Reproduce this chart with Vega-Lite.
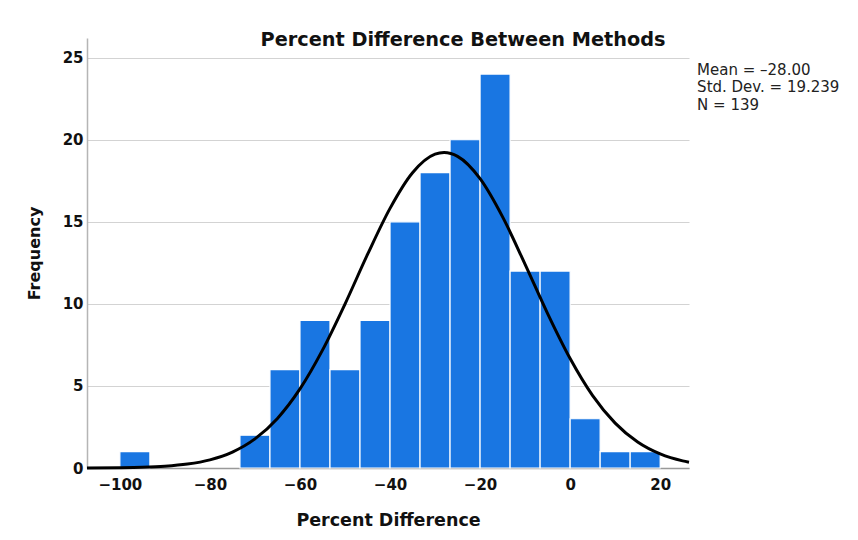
{
  "$schema": "https://vega.github.io/schema/vega-lite/v6.json",
  "width": 602,
  "height": 430,
  "autosize": "none",
  "padding": {"left": 87, "top": 38, "right": 169, "bottom": 72},
  "background": "white",
  "config": {
    "view": {"stroke": null},
    "font": "DejaVu Sans"
  },
  "title": {
    "text": "Percent Difference Between Methods",
    "font": "DejaVu Sans",
    "fontSize": 19.3,
    "fontWeight": "bold",
    "color": "#111111",
    "anchor": "middle",
    "dx": 75,
    "baseline": "alphabetic",
    "offset": -27
  },
  "datasets": {
    "bins": [
      {"start": -100, "end": -93.333, "count": 1},
      {"start": -73.333, "end": -66.667, "count": 2},
      {"start": -66.667, "end": -60, "count": 6},
      {"start": -60, "end": -53.333, "count": 9},
      {"start": -53.333, "end": -46.667, "count": 6},
      {"start": -46.667, "end": -40, "count": 9},
      {"start": -40, "end": -33.333, "count": 15},
      {"start": -33.333, "end": -26.667, "count": 18},
      {"start": -26.667, "end": -20, "count": 20},
      {"start": -20, "end": -13.333, "count": 24},
      {"start": -13.333, "end": -6.667, "count": 12},
      {"start": -6.667, "end": 0, "count": 12},
      {"start": 0, "end": 6.667, "count": 3},
      {"start": 6.667, "end": 13.333, "count": 1},
      {"start": 13.333, "end": 20, "count": 1}
    ],
    "curve": [
      {"x": -107.3, "y": 0.004},
      {"x": -100, "y": 0.018},
      {"x": -95, "y": 0.045},
      {"x": -90, "y": 0.107},
      {"x": -85, "y": 0.239},
      {"x": -80, "y": 0.498},
      {"x": -75, "y": 0.972},
      {"x": -70, "y": 1.774},
      {"x": -65, "y": 3.023},
      {"x": -60, "y": 4.817},
      {"x": -55, "y": 7.18},
      {"x": -50, "y": 9.99},
      {"x": -45, "y": 13.01},
      {"x": -40, "y": 15.82},
      {"x": -35, "y": 17.99},
      {"x": -30, "y": 19.12},
      {"x": -28, "y": 19.22},
      {"x": -25, "y": 18.99},
      {"x": -20, "y": 17.63},
      {"x": -15, "y": 15.3},
      {"x": -10, "y": 12.41},
      {"x": -5, "y": 9.41},
      {"x": 0, "y": 6.67},
      {"x": 5, "y": 4.41},
      {"x": 10, "y": 2.733},
      {"x": 15, "y": 1.581},
      {"x": 20, "y": 0.855},
      {"x": 25, "y": 0.432},
      {"x": 26.4, "y": 0.353}
    ],
    "stats": [
      {"label": "Mean = –28.00\nStd. Dev. = 19.239\nN = 139"}
    ]
  },
  "layer": [
    {
      "data": {"name": "bins"},
      "mark": {"type": "rect", "color": "#1976E2", "stroke": "white", "strokeWidth": 1.2},
      "encoding": {
        "x": {
          "field": "start",
          "type": "quantitative",
          "scale": {"domain": [-107.3, 26.4], "nice": false, "zero": false},
          "axis": {
            "values": [-100, -80, -60, -40, -20, 0, 20],
            "title": "Percent Difference",
            "titleFont": "DejaVu Sans",
            "titleFontSize": 17.5,
            "titleFontWeight": "bold",
            "titleColor": "#111111",
            "titlePadding": 19,
            "labelFont": "DejaVu Sans",
            "labelFontSize": 15,
            "labelFontWeight": "bold",
            "labelColor": "#111111",
            "labelPadding": 9,
            "ticks": false,
            "grid": false,
            "domainColor": "#999999",
            "domainWidth": 1.5
          }
        },
        "x2": {"field": "end"},
        "y": {
          "field": "count",
          "type": "quantitative",
          "scale": {"domain": [0, 26.2], "nice": false},
          "axis": {
            "values": [0, 5, 10, 15, 20, 25],
            "title": "Frequency",
            "titleFont": "DejaVu Sans",
            "titleFontSize": 16,
            "titleFontWeight": "bold",
            "titleColor": "#111111",
            "titlePadding": 20,
            "labelFont": "DejaVu Sans",
            "labelFontSize": 15,
            "labelFontWeight": "bold",
            "labelColor": "#111111",
            "labelPadding": 4,
            "ticks": false,
            "grid": true,
            "gridColor": "#d3d3d3",
            "gridWidth": 1.2,
            "domainColor": "#b5b5b5",
            "domainWidth": 1.5
          }
        },
        "y2": {"datum": 0}
      }
    },
    {
      "data": {"name": "curve"},
      "mark": {"type": "line", "color": "black", "strokeWidth": 3, "interpolate": "monotone"},
      "encoding": {
        "x": {"field": "x", "type": "quantitative"},
        "y": {"field": "y", "type": "quantitative"}
      }
    },
    {
      "data": {"name": "stats"},
      "mark": {
        "type": "text",
        "align": "left",
        "baseline": "top",
        "lineBreak": "\n",
        "lineHeight": 17.6,
        "fontSize": 15,
        "font": "DejaVu Sans",
        "color": "#222222"
      },
      "encoding": {
        "x": {"datum": 28.2, "type": "quantitative"},
        "y": {"datum": 24.7, "type": "quantitative"},
        "text": {"field": "label"}
      }
    }
  ]
}
